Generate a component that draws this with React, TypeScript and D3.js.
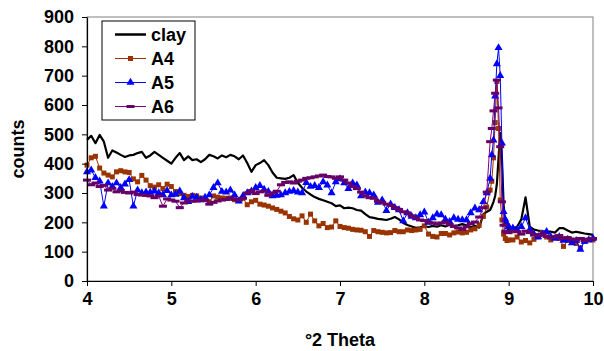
import { useEffect, useRef } from 'react';
import * as d3 from 'd3';

// scan positions (°2 theta); finer step around the main reflection
const theta = [
  4.0, 4.05, 4.1, 4.15, 4.2, 4.25, 4.3, 4.35, 4.4, 4.45,
  4.5, 4.55, 4.6, 4.65, 4.7, 4.75, 4.8, 4.85, 4.9, 4.95,
  5.0, 5.05, 5.1, 5.15, 5.2, 5.25, 5.3, 5.35, 5.4, 5.45,
  5.5, 5.55, 5.6, 5.65, 5.7, 5.75, 5.8, 5.85, 5.9, 5.95,
  6.0, 6.05, 6.1, 6.15, 6.2, 6.25, 6.3, 6.35, 6.4, 6.45,
  6.5, 6.55, 6.6, 6.65, 6.7, 6.75, 6.8, 6.85, 6.9, 6.95,
  7.0, 7.05, 7.1, 7.15, 7.2, 7.25, 7.3, 7.35, 7.4, 7.45,
  7.5, 7.55, 7.6, 7.65, 7.7, 7.75, 7.8, 7.85, 7.9, 7.95,
  8.0, 8.05, 8.1, 8.15, 8.2, 8.25, 8.3, 8.35, 8.4, 8.45,
  8.5, 8.55, 8.6, 8.65, 8.7, 8.74, 8.78, 8.8, 8.82, 8.84,
  8.86, 8.88, 8.9, 8.92, 8.94, 8.96, 8.98, 9.0, 9.05, 9.1,
  9.15, 9.2, 9.25, 9.3, 9.35, 9.4, 9.45, 9.5, 9.55, 9.6,
  9.65, 9.7, 9.75, 9.8, 9.85, 9.9, 9.95, 10.0,
];

const clay = [
  481, 495, 470, 498, 475, 420, 445, 438, 430, 423,
  428, 430, 436, 440, 420, 428, 440, 430, 420, 410,
  400, 420, 436, 412, 425, 412, 415, 405, 415, 430,
  425, 418, 428, 422, 430, 425, 415, 428, 402, 372,
  395, 402, 412, 395, 370, 352, 350, 348, 352, 361,
  335, 318, 305, 295, 286, 280, 275, 270, 265, 255,
  258, 248, 250, 248, 242, 240, 228, 218, 215, 212,
  210, 208, 212, 218, 210, 198, 191, 186, 181, 183,
  186, 184, 188, 185, 190, 186, 192, 188, 190, 194,
  190, 184, 188, 182, 228, 236, 242, 255, 270, 290,
  330, 420, 505, 420, 260, 195, 180, 175, 180, 185,
  210, 285, 185, 175, 172, 170, 168, 168, 165, 180,
  180, 172, 165, 168, 165, 162, 160, 157,
];

const a4 = [
  395, 420, 425, 385, 368, 361, 355, 372, 376, 372,
  370, 348, 338, 360, 344, 325, 320, 328, 315, 330,
  322, 305, 298, 292, 288, 292, 290, 283, 278, 270,
  290, 286, 283, 282, 283, 277, 276, 282, 260, 270,
  275, 262, 259, 255, 249, 244, 238, 232, 220, 212,
  208, 222, 200, 228, 205, 188, 196, 182, 184, 205,
  186, 182, 180, 176, 174, 173, 168, 152, 172, 168,
  166, 164, 165, 172, 168, 168, 174, 172, 174, 176,
  188, 160, 152, 150, 162, 162, 157, 164, 167, 164,
  166, 174, 178, 190, 220, 252, 310, 340, 420, 540,
  680, 520, 276, 208, 160, 145, 138, 140, 140, 150,
  133, 138, 130, 142, 150, 165, 150, 140, 148, 145,
  118, 138, 140, 128, 113, 135, 140, 140,
];

const a5 = [
  372, 378, 352, 340, 255, 334, 322, 334, 318, 330,
  345, 255, 310, 300, 303, 302, 306, 300, 294, 308,
  293, 295, 306, 283, 270, 288, 285, 276, 285, 293,
  318, 334, 305, 303, 310, 293, 272, 290, 300, 306,
  318, 325, 312, 305, 290, 292, 293, 300, 305, 308,
  303, 300, 335, 322, 325, 318, 338, 327, 300, 338,
  348, 334, 315, 334, 327, 290, 303, 300, 293, 268,
  276, 240, 262, 250, 242, 205, 232, 220, 215, 225,
  235, 200, 215, 228, 225, 210, 202, 215, 210, 208,
  208, 232, 248, 242, 270, 300, 350, 430, 480, 630,
  740, 795, 700, 470, 236, 210, 195, 185, 180, 175,
  185, 215, 175, 160, 150, 160, 168, 150, 145, 150,
  138, 142, 130, 138, 108, 135, 140, 145,
];

const a6 = [
  344, 328, 334, 322, 326, 310, 316, 304, 308, 302,
  300, 303, 295, 293, 292, 290, 284, 290, 255, 280,
  276, 272, 250, 266, 273, 272, 273, 274, 276, 262,
  268, 273, 276, 278, 283, 278, 276, 282, 300, 308,
  298, 304, 306, 292, 300, 306, 328, 336, 338, 334,
  340, 344, 350, 352, 355, 358, 361, 356, 355, 350,
  355, 344, 334, 322, 315, 303, 290, 284, 282, 272,
  268, 262, 258, 250, 244, 236, 232, 222, 215, 208,
  206, 201, 198, 194, 198, 201, 192, 186, 181, 176,
  185, 196, 201, 218, 250, 303, 475, 520, 580, 640,
  685, 590, 458, 270, 190, 170, 165, 165, 170, 168,
  160, 170, 165, 158, 155, 160, 152, 148, 150, 155,
  145, 148, 142, 140, 145, 138, 142, 145,
];

const seriesNames = ['clay', 'A4', 'A5', 'A6'];
const xTicks = [4, 5, 6, 7, 8, 9, 10];
const yTicks = [0, 100, 200, 300, 400, 500, 600, 700, 800, 900];

type Marker = 'none' | 'square' | 'triangle' | 'dash';

const styles: Record<string, { line: string; mark: string; width: number; marker: Marker }> = {
  clay: { line: '#000000', mark: '#000000', width: 2.2, marker: 'none' },
  A4: { line: '#993300', mark: '#993300', width: 1, marker: 'square' },
  A5: { line: '#0000ff', mark: '#0000ff', width: 1, marker: 'triangle' },
  A6: { line: '#800080', mark: '#660066', width: 1, marker: 'dash' },
};

const FONT = "'Liberation Sans', Arial, sans-serif";
const FONT_SIZE = 18;

function drawMarker(g: d3.Selection<SVGGElement, unknown, null, undefined>, kind: Marker, cx: number, cy: number, color: string) {
  if (kind === 'square') {
    g.append('rect').attr('x', cx - 2.5).attr('y', cy - 2.5).attr('width', 5).attr('height', 5).attr('fill', color);
  } else if (kind === 'triangle') {
    g.append('path')
      .attr('d', d3.symbol(d3.symbolTriangle, 28)())
      .attr('transform', `translate(${cx},${cy})`)
      .attr('fill', color);
  } else if (kind === 'dash') {
    g.append('rect').attr('x', cx - 4).attr('y', cy - 1.5).attr('width', 8).attr('height', 3).attr('fill', color);
  }
}

export default function App() {
  const svgRef = useRef<SVGSVGElement>(null);

  useEffect(() => {
    if (!svgRef.current) return;
    const width = 604;
    const height = 351;
    const margin = { top: 17, right: 11, bottom: 70, left: 87 };

    const svg = d3.select(svgRef.current);
    svg.selectAll('*').remove();
    svg.attr('width', width).attr('height', height);

    const x = d3.scaleLinear().domain([4, 10]).range([margin.left, width - margin.right]);
    const y = d3.scaleLinear().domain([0, 900]).range([height - margin.bottom, margin.top]);

    // plot area frame (grey, Excel style)
    svg.append('rect')
      .attr('x', x(4))
      .attr('y', y(900))
      .attr('width', x(10) - x(4))
      .attr('height', y(0) - y(900))
      .attr('fill', 'none')
      .attr('stroke', '#808080')
      .attr('stroke-width', 1);

    const data: Record<string, number[]> = { clay, A4: a4, A5: a5, A6: a6 };
    const line = d3.line<number>()
      .x((_, i) => x(theta[i]))
      .y((d) => y(d));

    seriesNames.forEach((name) => {
      const st = styles[name];
      const vals = data[name];
      svg.append('path')
        .attr('d', line(vals))
        .attr('fill', 'none')
        .attr('stroke', st.line)
        .attr('stroke-width', st.width)
        .attr('stroke-linejoin', 'round');
      if (st.marker !== 'none') {
        const mg = svg.append('g');
        vals.forEach((v, i) => drawMarker(mg, st.marker, x(theta[i]), y(v), st.mark));
      }
    });

    // axes
    const yAxis = svg.append('g')
      .attr('transform', `translate(${x(4)},0)`)
      .call(d3.axisLeft(y).tickValues(yTicks).tickSize(5).tickSizeOuter(0).tickPadding(8));
    const xAxis = svg.append('g')
      .attr('transform', `translate(0,${y(0)})`)
      .call(d3.axisBottom(x).tickValues(xTicks).tickFormat(d3.format('d')).tickSize(5).tickSizeOuter(0).tickPadding(6));
    [yAxis, xAxis].forEach((ax) => {
      ax.select('.domain').attr('stroke', '#000').attr('stroke-width', 1.2);
      ax.selectAll('line').attr('stroke', '#000');
      ax.selectAll('text')
        .attr('font-family', FONT)
        .attr('font-weight', 'bold')
        .attr('font-size', FONT_SIZE)
        .attr('fill', '#000');
    });

    // axis titles
    svg.append('text')
      .attr('x', (x(4) + x(10)) / 2)
      .attr('y', 340)
      .attr('text-anchor', 'middle')
      .attr('dominant-baseline', 'central')
      .attr('font-family', FONT)
      .attr('font-weight', 'bold')
      .attr('font-size', FONT_SIZE)
      .text('°2 Theta');
    svg.append('text')
      .attr('transform', `translate(18,${(y(0) + y(900)) / 2}) rotate(-90)`)
      .attr('text-anchor', 'middle')
      .attr('dominant-baseline', 'central')
      .attr('font-family', FONT)
      .attr('font-weight', 'bold')
      .attr('font-size', FONT_SIZE)
      .text('counts');

    // legend
    const lg = svg.append('g').attr('transform', 'translate(102,21)');
    lg.append('rect')
      .attr('width', 93)
      .attr('height', 99)
      .attr('fill', '#fff')
      .attr('stroke', '#000')
      .attr('stroke-width', 1);
    seriesNames.forEach((name, i) => {
      const st = styles[name];
      const cy = 13.5 + i * 24;
      lg.append('line')
        .attr('x1', 13).attr('x2', 44)
        .attr('y1', cy).attr('y2', cy)
        .attr('stroke', st.line)
        .attr('stroke-width', name === 'clay' ? 2.5 : 1);
      const mg = lg.append('g');
      drawMarker(mg, st.marker, 28.5, cy, st.mark);
      lg.append('text')
        .attr('x', 49)
        .attr('y', cy)
        .attr('dominant-baseline', 'central')
        .attr('font-family', FONT)
        .attr('font-weight', 'bold')
        .attr('font-size', FONT_SIZE)
        .text(name);
    });
  }, []);

  return (
    <div>
      <style>{'body{margin:0}'}</style>
      <svg ref={svgRef} />
    </div>
  );
}
